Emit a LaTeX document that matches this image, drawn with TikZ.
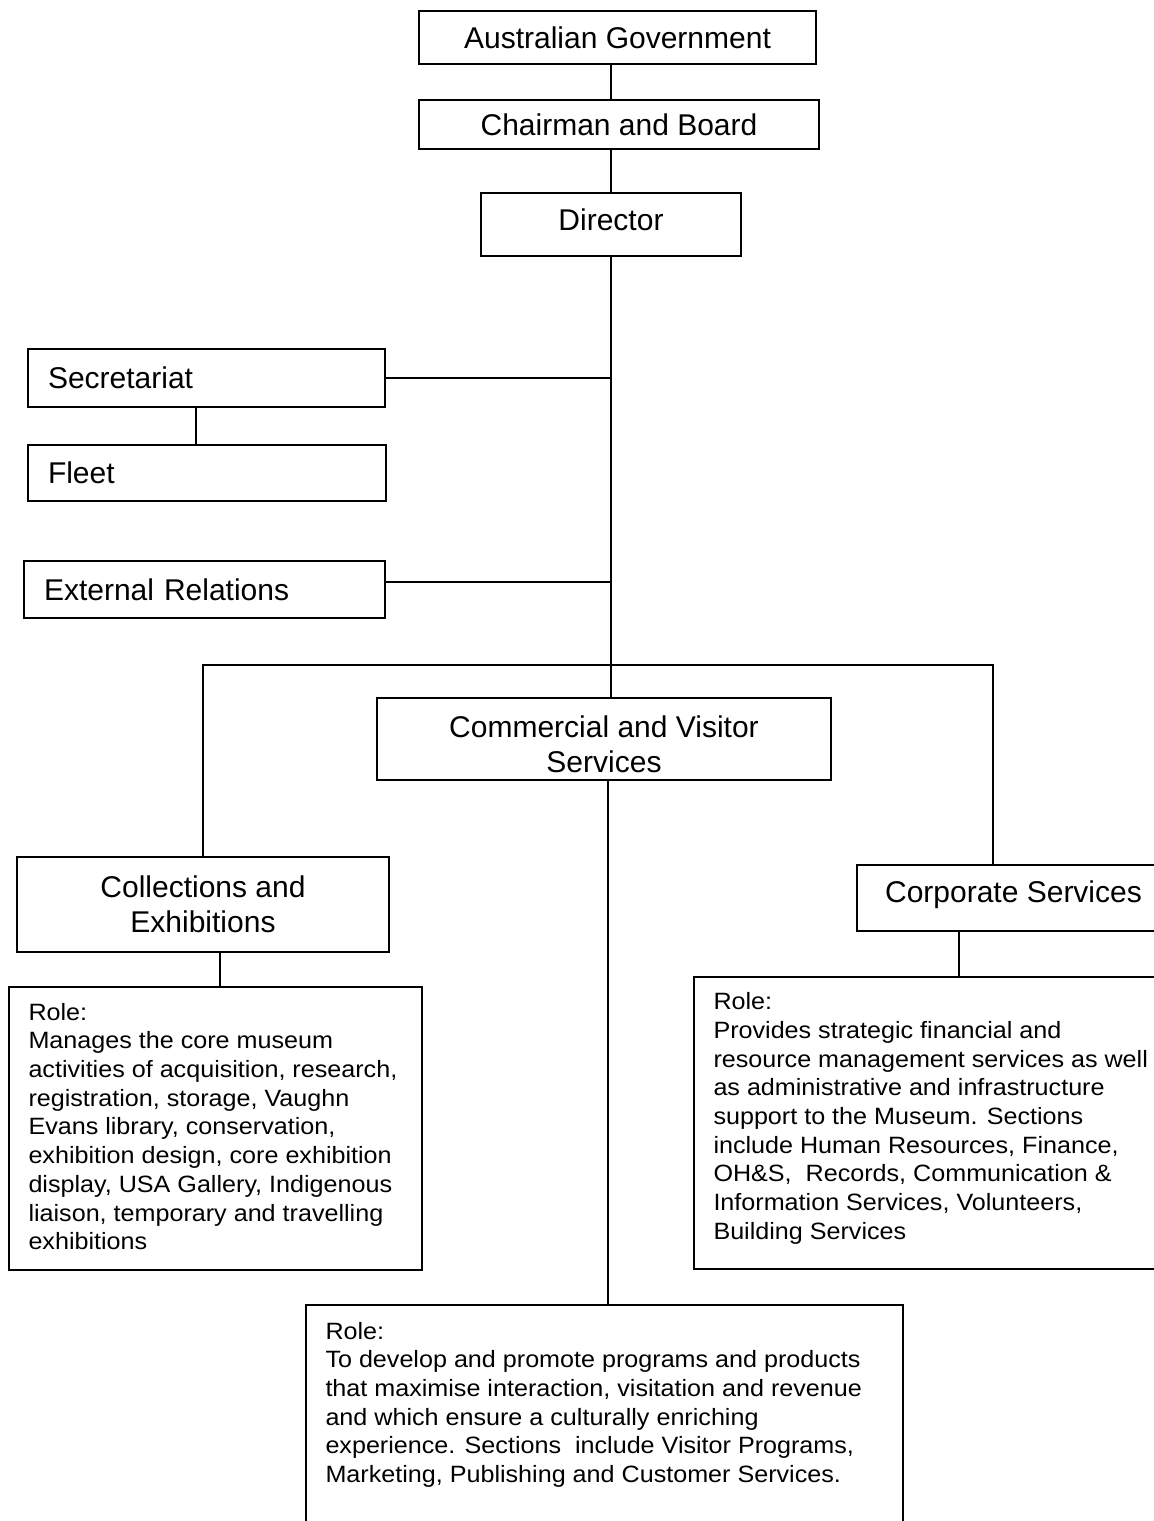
\documentclass[tikz,border=0pt]{standalone}
\usepackage{fontspec}
\setmainfont{Liberation Sans}
\newfontfamily\rolefont[FakeStretch=1.065]{Liberation Sans}
\usepackage{tikz}
\usetikzlibrary{positioning}
\tikzset{unit/.style = {draw, line width=0.9pt, inner sep=0pt,
                        font=\fontsize{15}{17.5}\selectfont},
         unitleft/.style = {unit, align=left, inner xsep=10pt},
         rolebox/.style = {draw, line width=0.9pt, inner sep=0pt},
         roletext/.style = {anchor=north west, inner sep=0pt, align=left,
                            font=\rolefont\fontsize{11.8}{14.35}\selectfont},
         link/.style = {line width=0.8pt}}

\begin{document}
\begin{tikzpicture}[x=0.5pt, y=-0.5pt]
    \useasboundingbox (0, 0) rectangle (1154, 1521);
    \clip (0, 0) rectangle (1154, 1521);

    \node [unit, minimum width=198.5pt, minimum height=26.5pt] (gov) at (617.5, 37.5) {Australian Government};
    \node [unit, minimum width=200pt, minimum height=24.5pt] (board) at (619, 124.5) {Chairman and Board};
    \node [unit, minimum width=130pt, minimum height=31.5pt, text height=10.9pt, text depth=4.7pt] (dir)
        at (611, 224.5) {Director};

    \node [unitleft, text width=158.5pt, minimum height=29pt] (sec) at (206.5, 378) {Secretariat};
    \node [unitleft, text width=159pt, minimum height=28pt] (fleet) at (207, 473) {Fleet};
    \node [unitleft, text width=160.5pt, minimum height=28.5pt] (ext) at (204.5, 589.5) {External Relations};

    \node [unit, align=center, minimum width=227pt, minimum height=41pt, text height=33.8pt, text depth=0pt] (comm)
        at (604, 739) {Commercial and Visitor\\ Services};
    \node [unit, align=center, minimum width=186pt, minimum height=47.5pt] (coll) at (203, 904.5)
        {Collections and\\ Exhibitions};
    \node [unit, minimum width=156.5pt, minimum height=33pt, text height=10.9pt, text depth=6.2pt] (corp)
        at (1013.5, 898) {Corporate Services};

    \node [rolebox, minimum width=206.5pt, minimum height=141.5pt] (rolecoll) at (215.5, 1128.5) {};
    \node [rolebox, minimum width=238pt, minimum height=146pt] (rolecorp) at (932, 1123) {};
    \node [rolebox, minimum width=298.5pt, minimum height=127.5pt] (rolecomm) at (604.5, 1432.5) {};

    \node [roletext] (txtcoll) at ([shift={(20, 16.5)}]rolecoll.north west)
        {Role:\\ Manages the core museum\\ activities of acquisition, research,\\
         registration, storage, Vaughn\\ Evans library, conservation,\\
         exhibition design, core exhibition\\ display, USA Gallery, Indigenous\\
         liaison, temporary and travelling\\ exhibitions};
    \node [roletext] (txtcorp) at ([shift={(20, 16)}]rolecorp.north west)
        {Role:\\ Provides strategic financial and\\ resource management services as well\\
         as administrative and infrastructure\\ support to the Museum. Sections\\
         include Human Resources, Finance,\\ OH\&S,~ Records, Communication \&\\
         Information Services, Volunteers,\\ Building Services};
    \node [roletext] (txtcomm) at ([shift={(20, 17.5)}]rolecomm.north west)
        {Role:\\ To develop and promote programs and products\\
         that maximise interaction, visitation and revenue\\
         and which ensure a culturally enriching\\
         experience. Sections~ include Visitor Programs,\\
         Marketing, Publishing and Customer Services.};

    \coordinate (bar) at (610, 665);

    \draw [link] (gov.south -| dir.north) -- (board.north -| dir.north);
    \draw [link] (board.south -| dir.north) -- (dir.north);
    \draw [link] (dir.south) -- (dir.south |- comm.north);
    \draw [link] (sec.east) -- (sec.east -| dir.south);
    \draw [link] ([yshift=3.75pt]ext.east) -- ([yshift=3.75pt]ext.east -| dir.south);
    \draw [link] ([xshift=-5.25pt]sec.south) -- ([xshift=-5.25pt]sec.south |- fleet.north);
    \draw [link] (coll.north) |- (bar) -| ([xshift=-10.25pt]corp.north);
    \draw [link] ([xshift=2.25pt]rolecoll.north) -- ([xshift=2.25pt]rolecoll.north |- coll.south);
    \draw [link] ([xshift=1.75pt]rolecomm.north) -- ([xshift=1.75pt]rolecomm.north |- comm.south);
    \draw [link] ([xshift=13.5pt]rolecorp.north) -- ([xshift=13.5pt]rolecorp.north |- corp.south);
\end{tikzpicture}
\end{document}
